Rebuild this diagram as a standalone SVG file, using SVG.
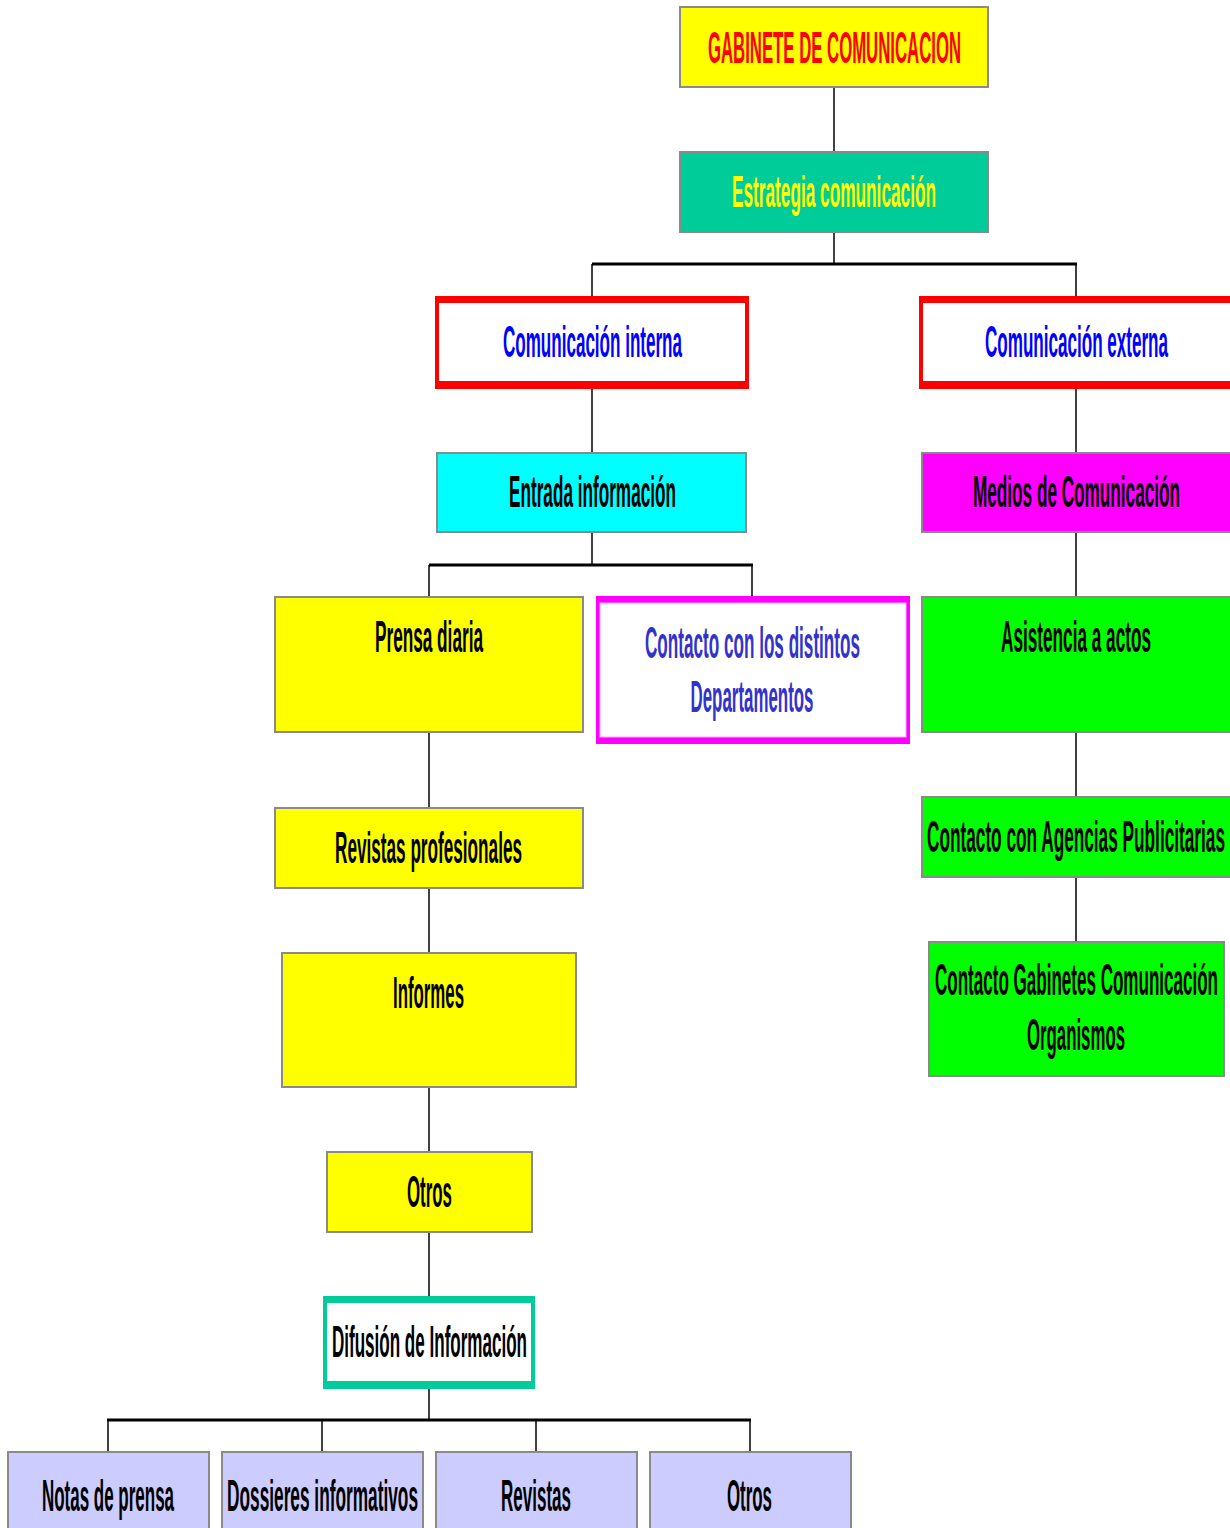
<svg xmlns="http://www.w3.org/2000/svg" width="1230" height="1528" viewBox="0 0 1230 1528">
<style>
.box{stroke:#8a8a8a;stroke-width:2}
.t{font-family:"Liberation Sans",Arial,sans-serif;font-weight:bold;font-size:44px;text-anchor:middle}
.k{fill:#000}
.ln{stroke:#000;stroke-width:1.5;fill:none}
.bar{stroke:#000;stroke-width:3;fill:none}
</style>
<rect width="1230" height="1528" fill="#fff"/>
<g id="connectors">
<line class="ln" x1="834" y1="87" x2="834" y2="152"/>
<line class="ln" x1="834" y1="232" x2="834" y2="264"/>
<line class="bar" x1="592" y1="264" x2="1077" y2="264"/>
<line class="ln" x1="592" y1="264" x2="592" y2="297"/>
<line class="ln" x1="1076" y1="264" x2="1076" y2="297"/>
<line class="ln" x1="592" y1="387" x2="592" y2="452"/>
<line class="ln" x1="1076" y1="387" x2="1076" y2="452"/>
<line class="ln" x1="592" y1="532" x2="592" y2="565"/>
<line class="bar" x1="429" y1="565" x2="753" y2="565"/>
<line class="ln" x1="429" y1="565" x2="429" y2="597"/>
<line class="ln" x1="752" y1="565" x2="752" y2="597"/>
<line class="ln" x1="1076" y1="532" x2="1076" y2="597"/>
<line class="ln" x1="1076" y1="732" x2="1076" y2="797"/>
<line class="ln" x1="1076" y1="877" x2="1076" y2="942"/>
<line class="ln" x1="429" y1="732" x2="429" y2="808"/>
<line class="ln" x1="429" y1="888" x2="429" y2="953"/>
<line class="ln" x1="429" y1="1087" x2="429" y2="1152"/>
<line class="ln" x1="429" y1="1232" x2="429" y2="1297"/>
<line class="ln" x1="429" y1="1388" x2="429" y2="1420"/>
<line class="bar" x1="107" y1="1420" x2="751" y2="1420"/>
<line class="ln" x1="108" y1="1420" x2="108" y2="1452"/>
<line class="ln" x1="322" y1="1420" x2="322" y2="1452"/>
<line class="ln" x1="536" y1="1420" x2="536" y2="1452"/>
<line class="ln" x1="750" y1="1420" x2="750" y2="1452"/>
</g>
<g id="gabinete">
<rect class="box" x="680" y="7" width="308" height="80" fill="#ffff00"/>
<text class="t" x="834.5" y="63" fill="#ff0000" transform="matrix(0.4,0,0,1,500.7,0)" textLength="632.5" lengthAdjust="spacingAndGlyphs">GABINETE DE COMUNICACION</text>
</g>
<g id="estrategia">
<rect class="box" x="680" y="152" width="308" height="80" fill="#00cc99"/>
<text class="t" x="834" y="207" fill="#ffff00" transform="matrix(0.4,0,0,1,500.4,0)" textLength="510" lengthAdjust="spacingAndGlyphs">Estrategia comunicación</text>
</g>
<g id="interna">
<rect x="435" y="296" width="314" height="93" fill="#ff0000"/>
<rect x="439" y="303" width="306" height="78" fill="#fff"/>
<text class="t" x="592.5" y="357" fill="#0000ff" transform="matrix(0.4,0,0,1,355.5,0)" textLength="447.5" lengthAdjust="spacingAndGlyphs">Comunicación interna</text>
</g>
<g id="externa">
<rect x="919" y="296" width="320" height="93" fill="#ff0000"/>
<rect x="923" y="303" width="320" height="78" fill="#fff"/>
<text class="t" x="1076.5" y="357" fill="#0000ff" transform="matrix(0.4,0,0,1,645.9,0)" textLength="457.5" lengthAdjust="spacingAndGlyphs">Comunicación externa</text>
</g>
<g id="entrada">
<rect class="box" x="437" y="453" width="309" height="79" fill="#00ffff"/>
<text class="t k" x="592.5" y="507" transform="matrix(0.4,0,0,1,355.5,0)" textLength="417.5" lengthAdjust="spacingAndGlyphs">Entrada información</text>
</g>
<g id="medios">
<rect class="box" x="922" y="453" width="312" height="79" fill="#ff00ff"/>
<text class="t k" x="1076.5" y="507" transform="matrix(0.4,0,0,1,645.9,0)" textLength="517.5" lengthAdjust="spacingAndGlyphs">Medios de Comunicación</text>
</g>
<g id="prensa">
<rect class="box" x="275" y="597" width="308" height="135" fill="#ffff00"/>
<text class="t k" x="429" y="652" transform="matrix(0.4,0,0,1,257.4,0)" textLength="270" lengthAdjust="spacingAndGlyphs">Prensa diaria</text>
</g>
<g id="contacto-dep">
<rect x="596" y="596" width="314" height="148" fill="#ff00ff"/>
<rect x="600" y="603" width="306" height="134" fill="#fff" stroke="#ffaaff" stroke-width="1"/>
<text class="t" x="752.5" y="658" fill="#3333cc" transform="matrix(0.4,0,0,1,451.5,0)" textLength="537.5" lengthAdjust="spacingAndGlyphs">Contacto con los distintos</text>
<text class="t" x="752" y="712" fill="#3333cc" transform="matrix(0.4,0,0,1,451.2,0)" textLength="307.5" lengthAdjust="spacingAndGlyphs">Departamentos</text>
</g>
<g id="asistencia">
<rect class="box" x="922" y="597" width="312" height="135" fill="#00ff00"/>
<text class="t k" x="1076" y="652" transform="matrix(0.4,0,0,1,645.6,0)" textLength="375" lengthAdjust="spacingAndGlyphs">Asistencia a actos</text>
</g>
<g id="revistas-prof">
<rect class="box" x="275" y="808" width="308" height="80" fill="#ffff00"/>
<text class="t k" x="428.5" y="863" transform="matrix(0.4,0,0,1,257.1,0)" textLength="467.5" lengthAdjust="spacingAndGlyphs">Revistas profesionales</text>
</g>
<g id="agencias">
<rect class="box" x="922" y="797" width="312" height="80" fill="#00ff00"/>
<text class="t k" x="1076" y="852" transform="matrix(0.4,0,0,1,645.6,0)" textLength="745" lengthAdjust="spacingAndGlyphs">Contacto con Agencias Publicitarias</text>
</g>
<g id="gabinetes-org">
<rect class="box" x="929" y="942" width="295" height="134" fill="#00ff00"/>
<text class="t k" x="1076.5" y="995" transform="matrix(0.4,0,0,1,645.9,0)" textLength="707.5" lengthAdjust="spacingAndGlyphs">Contacto Gabinetes Comunicación</text>
<text class="t k" x="1076" y="1050" transform="matrix(0.4,0,0,1,645.6,0)" textLength="245" lengthAdjust="spacingAndGlyphs">Organismos</text>
</g>
<g id="informes">
<rect class="box" x="282" y="953" width="294" height="134" fill="#ffff00"/>
<text class="t k" x="428.5" y="1008" transform="matrix(0.4,0,0,1,257.1,0)" textLength="177.5" lengthAdjust="spacingAndGlyphs">Informes</text>
</g>
<g id="otros1">
<rect class="box" x="327" y="1152" width="205" height="80" fill="#ffff00"/>
<text class="t k" x="429.5" y="1207" transform="matrix(0.4,0,0,1,257.7,0)" textLength="112.5" lengthAdjust="spacingAndGlyphs">Otros</text>
</g>
<g id="difusion">
<rect x="323" y="1296" width="212" height="93" fill="#00cc99"/>
<rect x="327" y="1303" width="204" height="78" fill="#fff"/>
<text class="t k" x="429.5" y="1357" transform="matrix(0.4,0,0,1,257.7,0)" textLength="487.5" lengthAdjust="spacingAndGlyphs">Difusión de Información</text>
</g>
<g id="notas">
<rect class="box" x="8" y="1452" width="201" height="90" fill="#ccccff"/>
<text class="t k" x="108" y="1511" transform="matrix(0.4,0,0,1,64.8,0)" textLength="330" lengthAdjust="spacingAndGlyphs">Notas de prensa</text>
</g>
<g id="dossieres">
<rect class="box" x="222" y="1452" width="201" height="90" fill="#ccccff"/>
<text class="t k" x="322.5" y="1511" transform="matrix(0.4,0,0,1,193.5,0)" textLength="477.5" lengthAdjust="spacingAndGlyphs">Dossieres informativos</text>
</g>
<g id="revistas">
<rect class="box" x="436" y="1452" width="201" height="90" fill="#ccccff"/>
<text class="t k" x="536" y="1511" transform="matrix(0.4,0,0,1,321.6,0)" textLength="175" lengthAdjust="spacingAndGlyphs">Revistas</text>
</g>
<g id="otros2">
<rect class="box" x="650" y="1452" width="201" height="90" fill="#ccccff"/>
<text class="t k" x="749.5" y="1511" transform="matrix(0.4,0,0,1,449.7,0)" textLength="112.5" lengthAdjust="spacingAndGlyphs">Otros</text>
</g>
</svg>
